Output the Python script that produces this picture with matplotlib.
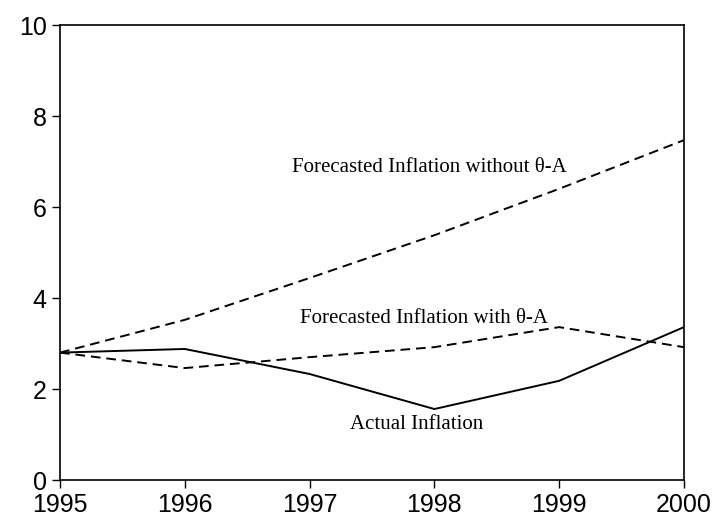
import matplotlib
matplotlib.use("Agg")
import matplotlib.pyplot as plt

years = [1995, 1996, 1997, 1998, 1999, 2000]
actual = [2.80, 2.88, 2.33, 1.56, 2.18, 3.36]
fc_with = [2.80, 2.46, 2.70, 2.92, 3.36, 2.92]
fc_without = [2.80, 3.52, 4.44, 5.38, 6.40, 7.47]

fig = plt.figure(figsize=(7.15, 5.2), dpi=100)
ax = fig.add_axes([0.0839, 0.0769, 0.8727, 0.875])

ax.plot(years, actual, color="black", lw=1.4)
ax.plot(years, fc_with, color="black", lw=1.4, ls=(0, (5, 3)))
ax.plot(years, fc_without, color="black", lw=1.4, ls=(0, (5, 3)))

serif = {"family": "Liberation Serif", "size": 15}
ax.text(1997.96, 6.86, "Forecasted Inflation without θ-A", ha="center", va="center", **serif)
ax.text(1997.92, 3.56, "Forecasted Inflation with θ-A", ha="center", va="center", **serif)
ax.text(1997.86, 1.21, "Actual Inflation", ha="center", va="center", **serif)

ax.set_xlim(1995, 2000)
ax.set_ylim(0, 10)
ax.set_xticks(years)
ax.set_yticks([0, 2, 4, 6, 8, 10])
ax.tick_params(direction="out", length=6, width=1, labelsize=18)
for lab in ax.get_xticklabels() + ax.get_yticklabels():
    lab.set_family("Liberation Sans")
for s in ax.spines.values():
    s.set_linewidth(1.2)

fig.savefig("out.png", dpi=100)
